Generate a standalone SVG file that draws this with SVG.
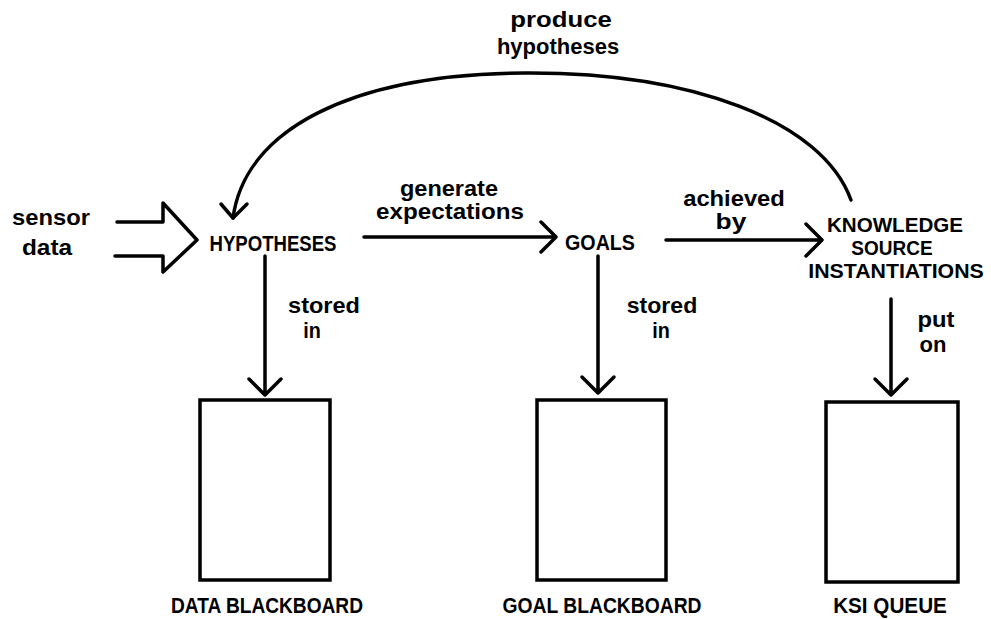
<svg xmlns="http://www.w3.org/2000/svg" width="991" height="619" viewBox="0 0 991 619">
<style>
text{font-family:"Liberation Sans",Arial,sans-serif;font-weight:bold;font-size:22px;fill:#000;text-anchor:middle;}
.ksi{font-size:20px;}
.ln{fill:none;stroke:#000;stroke-width:3.5;stroke-linecap:round;stroke-linejoin:round;}
.box{fill:#fff;stroke:#000;stroke-width:3.5;}
</style>
<rect width="991" height="619" fill="#fff"/>
<g id="connectors">
<path class="ln" d="M117 222 H163 V203 L197 240 L163 272 V256 H115"/>
<path class="ln" d="M851 200 C 822 120, 690 72, 525 73 C 350 74, 245 130, 233 218"/>
<path class="ln" d="M221 204 L233 218 L247 204"/>
<path class="ln" d="M364 237 H556 M541 222 L556 237 L541 252"/>
<path class="ln" d="M666 240 H822 M806 224 L822 240 L806 256"/>
<path class="ln" d="M265 256 V395 M249 379 L265 395 L281 379"/>
<path class="ln" d="M598 256 V393 M582 377 L598 393 L614 377"/>
<path class="ln" d="M891 299 V395 M875 379 L891 395 L907 379"/>
<text transform="translate(561,27) scale(1.17,1)">produce</text>
<text transform="translate(558,54) scale(1.0,1)">hypotheses</text>
<text transform="translate(449,196) scale(1.07,1)">generate</text>
<text transform="translate(450,219) scale(1.10,1)">expectations</text>
<text transform="translate(734,206) scale(1.08,1)">achieved</text>
<text transform="translate(731,229) scale(1.2,1)">by</text>
<text transform="translate(324,313) scale(1.07,1)">stored</text>
<text transform="translate(312,338) scale(0.9,1)">in</text>
<text transform="translate(662,313) scale(1.05,1)">stored</text>
<text transform="translate(661,338) scale(0.9,1)">in</text>
<text transform="translate(936,327) scale(1.08,1)">put</text>
<text transform="translate(933,352) scale(1.0,1)">on</text>
</g>
<g id="sensor-data">
<text transform="translate(51,225) scale(1.08,1)">sensor</text>
<text transform="translate(47,255) scale(1.11,1)">data</text>
</g>
<g id="hypotheses"><text transform="translate(273,251) scale(0.845,1)">HYPOTHESES</text></g>
<g id="goals"><text transform="translate(600,250) scale(0.895,1)">GOALS</text></g>
<g id="ksi">
<text class="ksi" transform="translate(895,232) scale(1.03,1)">KNOWLEDGE</text>
<text class="ksi" transform="translate(892,255) scale(0.95,1)">SOURCE</text>
<text class="ksi" transform="translate(896,278) scale(1.065,1)">INSTANTIATIONS</text>
</g>
<g id="data-blackboard">
<rect class="box" x="200" y="400" width="130" height="180"/>
<text transform="translate(267,613) scale(0.87,1)">DATA BLACKBOARD</text>
</g>
<g id="goal-blackboard">
<rect class="box" x="537" y="400" width="129" height="180"/>
<text transform="translate(602,613) scale(0.877,1)">GOAL BLACKBOARD</text>
</g>
<g id="ksi-queue">
<rect class="box" x="826" y="402" width="132" height="180"/>
<text transform="translate(890,613) scale(0.94,1)">KSI QUEUE</text>
</g>
</svg>
